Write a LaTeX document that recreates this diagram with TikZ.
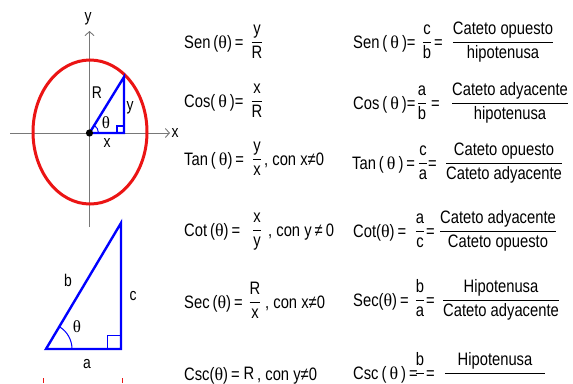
\documentclass[tikz,border=0pt]{standalone}
\usepackage{amsmath}
\usepackage{fontspec}
\setmainfont{Liberation Sans}[FakeStretch=0.82]
\newfontfamily\thfont{Liberation Serif}
\usetikzlibrary{arrows.meta}
\newcommand\thv{{\thfont θ}}
\newcommand\fr[2]{$\dfrac{\text{#1}}{\text{#2}}$}
\definecolor{redc}{RGB}{235,20,20}
\definecolor{axisc}{RGB}{120,120,120}
\tikzset{
  txt/.style={font=\fontsize{18}{22}\selectfont, inner sep=0pt},
  dl/.style={font=\fontsize{17}{20}\selectfont, inner sep=0pt},
  lbl/.style={txt, anchor=base west},
  frc/.style={txt, anchor=base},
  axisline/.style={draw=axisc, line width=0.9pt, -{Straight Barb[length=4pt,width=9pt]}},
  tri/.style={draw=blue, line width=2.4pt, line join=miter},
  thin blue/.style={draw=blue, line width=1pt},
  ring/.style={draw=redc, line width=3pt}
}
\begin{document}
\begin{tikzpicture}[x=1pt,y=-1pt]
\useasboundingbox (0,0) rectangle (573,383);
\clip (0,0) rectangle (573,383);
% ---------- unit circle diagram ----------
\coordinate (xl) at (10,133); \coordinate (xr) at (170,133);
\coordinate (yb) at (89.5,227); \coordinate (yt) at (89.5,31);
\draw[axisline] (xl) -- (xr);
\draw[axisline] (yb) -- (yt);
\node[dl] (xlab) at (175,133) {x};
\node[dl] (ylab) at (88,19) {y};
\coordinate (C) at (90,132);
\draw[ring] (C) ellipse[x radius=57, y radius=72];
\coordinate (O) at (89.5,133); \coordinate (P) at (124,133); \coordinate (Q) at (124,77);
\draw[tri] (O) -- (P) -- (Q) -- cycle;
\draw[thin blue, line width=1.3pt] (117,133) -- (117,126) -- (124,126);
\draw[thin blue] (98.5,133) arc[start angle=0, end angle=-58, radius=9];
\fill (O) circle[radius=3.6];
\node[dl] (lR) at (97,93) {R};
\node[dl] (ly) at (130,108) {y};
\node[dl] (lth) at (106,123) {\thv};
\node[dl] (lx) at (107,143) {x};
% ---------- right triangle ----------
\coordinate (A) at (46,349); \coordinate (B) at (121,349); \coordinate (T) at (121,223);
\draw[tri] (A) -- (B) -- (T) -- cycle;
\draw[thin blue] (107,349) -- (107,335) -- (121,335);
\draw[thin blue] (72,349) arc[start angle=0, end angle=-59, radius=26];
\node[dl] (tb) at (68,280) {b};
\node[dl] (tc) at (133,296) {c};
\node[dl] (tth) at (77,327) {\thv};
\node[dl] (ta) at (87,364) {a};
\coordinate (m1) at (43,378); \coordinate (m2) at (43,383);
\coordinate (m3) at (122,378); \coordinate (m4) at (122,383);
\draw[redc, line width=1pt] (m1) -- (m2);
\draw[redc, line width=1pt] (m3) -- (m4);
% ---------- left column ----------
\node[lbl] (l1) at (184,42+6.4) {Sen\,(\thv)\,=};
\node[frc] (l1f) at (257,42+4.5) {\fr{y}{R}};
\node[lbl] (l2) at (184,101+6.4) {Cos(\,\thv\,)=};
\node[frc] (l2f) at (257,101+4.5) {\fr{x}{R}};
\node[lbl] (l3) at (184,159+6.4) {Tan\,(\,\thv)\,=};
\node[frc] (l3f) at (257,159+4.5) {\fr{y}{x}};
\node[lbl] (l3c) at (264,159+6.4) {, con x≠0};
\node[lbl] (l4) at (184,230+6.4) {Cot\,(\thv)\,=};
\node[frc] (l4f) at (257,230+4.5) {\fr{x}{y}};
\node[lbl] (l4c) at (268,230+6.4) {, con y\,≠\,0};
\node[lbl] (l5) at (184,302+6.4) {Sec\,(\thv)\,=};
\node[frc] (l5f) at (255,302+4.5) {\fr{R}{x}};
\node[lbl] (l5c) at (265,302+6.4) {, con x≠0};
\node[lbl] (l6) at (184,374+6.4) {Csc(\thv)\,=};
\node[frc] (l6f) at (249,387+4.5) {$\dfrac{\text{R}}{\phantom{\text{y}}}$};
\node[lbl] (l6c) at (257,374+6.4) {, con y≠0};
% ---------- right column ----------
\node[lbl] (r1) at (353,42+6.4) {Sen\,(\,\thv\,)=};
\node[frc] (r1f) at (427,42+4.5) {\fr{c}{b}};
\node[lbl] (r1e) at (434,42+6.4) {=};
\node[frc] (r1g) at (503,42+4.5) {\fr{Cateto opuesto}{hipotenusa}};
\node[lbl] (r2) at (353,103+6.4) {Cos\,(\,\thv\,)=};
\node[frc] (r2f) at (422,103+4.5) {\fr{a}{b}};
\node[lbl] (r2e) at (431,103+6.4) {=};
\node[frc] (r2g) at (510,103+4.5) {\fr{Cateto adyacente}{hipotenusa}};
\node[lbl] (r3) at (352,163+6.4) {Tan\,(\,\thv\,)\,=};
\node[frc] (r3f) at (423,163+4.5) {\fr{c}{a}};
\node[lbl] (r3e) at (428,163+6.4) {=};
\node[frc] (r3g) at (504,163+4.5) {\fr{Cateto opuesto}{Cateto adyacente}};
\node[lbl] (r4) at (353,231+6.4) {Cot(\thv)\,=};
\node[frc] (r4f) at (420,231+4.5) {\fr{a}{c}};
\node[lbl] (r4e) at (426,231+6.4) {=};
\node[frc] (r4g) at (498,231+4.5) {\fr{Cateto adyacente}{Cateto opuesto}};
\node[lbl] (r5) at (353,300+6.4) {Sec(\thv)\,=};
\node[frc] (r5f) at (420,300+4.5) {\fr{b}{a}};
\node[lbl] (r5e) at (426,300+6.4) {=};
\node[frc] (r5g) at (501,300+4.5) {\fr{Hipotenusa}{Cateto adyacente}};
\node[lbl] (r6) at (353,373+6.4) {Csc\,(\,\thv\,)\,=};
\node[frc] (r6f) at (420,373+4.5) {$\dfrac{\text{b}}{\phantom{\text{a}}}$};
\node[lbl] (r6e) at (426,373+6.4) {=};
\node[frc] (r6g) at (495,373+4.5) {$\dfrac{\text{Hipotenusa}}{\phantom{\text{Cateto opuesto}}}$};
\end{tikzpicture}
\end{document}
